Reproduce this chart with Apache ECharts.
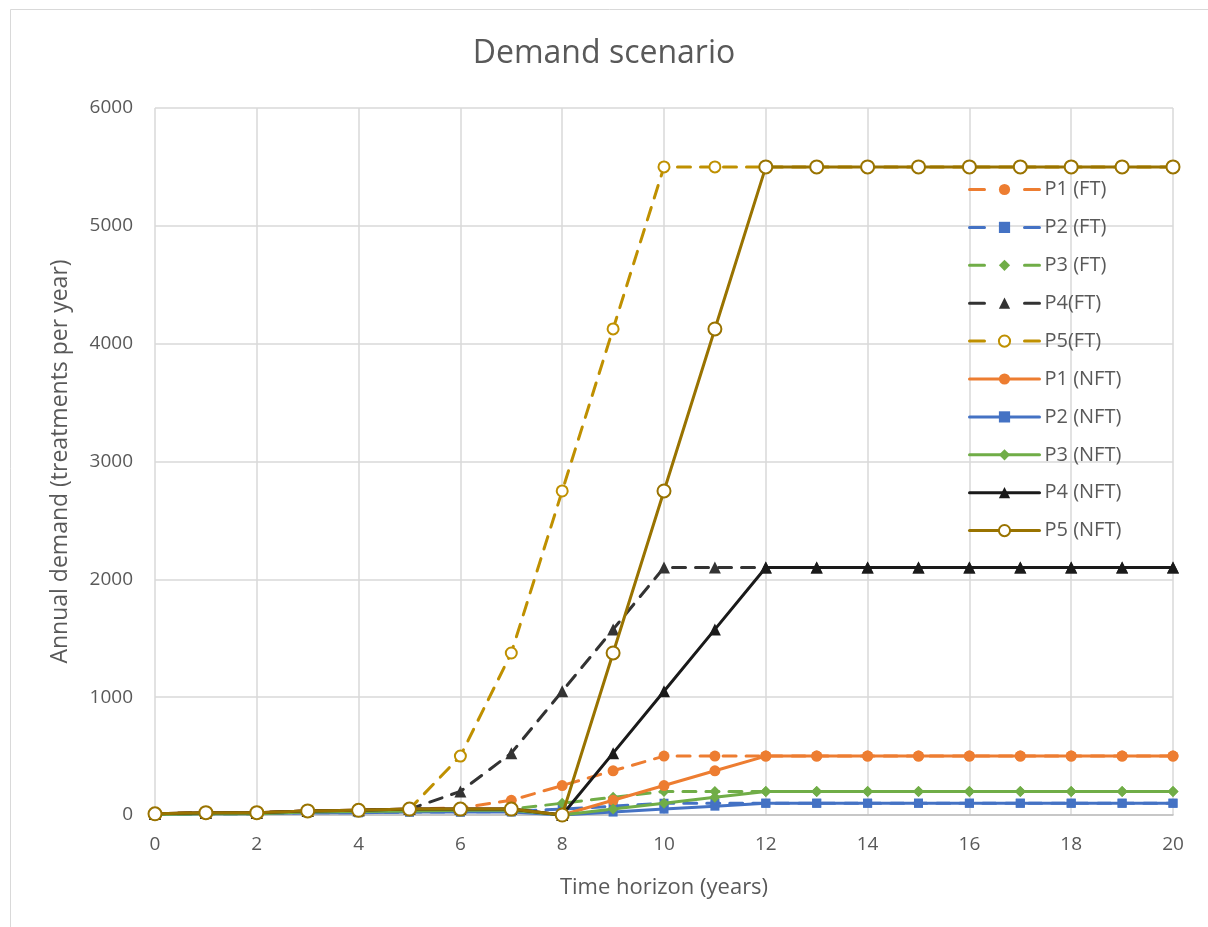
<!DOCTYPE html>
<html>
<head>
<meta charset="utf-8">
<script src="https://cdn.jsdelivr.net/npm/echarts@6/dist/echarts.min.js"></script>
<style>
  html, body { margin: 0; padding: 0; background: #fff; }
  #chart { width: 1208px; height: 927px; }
</style>
</head>
<body>
<div id="chart"></div>
<script>
// Time horizon in years
const years = [0,1,2,3,4,5,6,7,8,9,10,11,12,13,14,15,16,17,18,19,20];

// Annual demand, FT scenario
const p1FT = [10,20,20,35,40,50,60,125,250,375,500,500,500,500,500,500,500,500,500,500,500];
const p2FT = [5,10,10,20,20,25,25,30,50,75,100,100,100,100,100,100,100,100,100,100,100];
const p3FT = [5,10,10,25,30,35,40,50,100,150,200,200,200,200,200,200,200,200,200,200,200];
const p4FT = [10,20,20,35,40,50,200,525,1050,1575,2100,2100,2100,2100,2100,2100,2100,2100,2100,2100,2100];
const p5FT = [10,20,20,35,40,50,500,1375,2750,4125,5500,5500,5500,5500,5500,5500,5500,5500,5500,5500,5500];

// Annual demand, NFT scenario
const p1NFT = [10,20,20,35,40,50,50,50,0,125,250,375,500,500,500,500,500,500,500,500,500];
const p2NFT = [5,10,10,20,20,25,25,25,0,25,50,75,100,100,100,100,100,100,100,100,100];
const p3NFT = [5,10,10,25,30,35,40,40,0,50,100,150,200,200,200,200,200,200,200,200,200];
const p4NFT = [10,20,20,35,40,50,50,50,0,525,1050,1575,2100,2100,2100,2100,2100,2100,2100,2100,2100];
const p5NFT = [10,20,20,35,40,50,50,50,0,1375,2750,4125,5500,5500,5500,5500,5500,5500,5500,5500,5500];

const yTicks = [0,1000,2000,3000,4000,5000,6000];
const xTicks = [0,2,4,6,8,10,12,14,16,18,20];

const FONT = '"Open Sans", "Noto Sans", sans-serif';
const TXT = '#595959';

function pairs(vals) { return years.map((y, i) => [y, vals[i]]); }

function mk(name, vals, color, dashed, symbol, size, hollow) {
  return {
    name: name,
    type: 'line',
    data: pairs(vals),
    symbol: symbol,
    symbolSize: size,
    showSymbol: true,
    lineStyle: { color: color, width: 3, type: dashed ? [13, 10] : 'solid', cap: 'round' },
    itemStyle: hollow
      ? { color: '#ffffff', borderColor: color, borderWidth: 2 }
      : { color: color, borderColor: color, borderWidth: 0 },
    emphasis: { disabled: true },
    animation: false,
    z: dashed ? 2 : 3
  };
}

const ORANGE = '#ED7D31', BLUE = '#4472C4', GREEN = '#70AD47';
const DARK = '#333333', BLACK = '#1a1a1a', GOLD = '#BF9000', OLIVE = '#997300';

const series = [
  mk('P1 (FT)', p1FT, ORANGE, true, 'circle', 11, false),
  mk('P2 (FT)', p2FT, BLUE, true, 'rect', 9, false),
  mk('P3 (FT)', p3FT, GREEN, true, 'diamond', 11, false),
  mk('P4(FT)', p4FT, DARK, true, 'triangle', 12, false),
  mk('P5(FT)', p5FT, GOLD, true, 'circle', 11, true),
  mk('P1 (NFT)', p1NFT, ORANGE, false, 'circle', 11, false),
  mk('P2 (NFT)', p2NFT, BLUE, false, 'rect', 9, false),
  mk('P3 (NFT)', p3NFT, GREEN, false, 'diamond', 11, false),
  mk('P4 (NFT)', p4NFT, BLACK, false, 'triangle', 12, false),
  mk('P5 (NFT)', p5NFT, OLIVE, false, 'circle', 13, true)
];

// Legend entries: dashed series show one short dash on each side of the marker
const legendData = series.map(s => ({
  name: s.name,
  lineStyle: { width: 3, type: Array.isArray(s.lineStyle.type) ? [15, 40] : 'solid' }
}));

const chart = echarts.init(document.getElementById('chart'), null, { renderer: 'canvas' });
chart.setOption({
  backgroundColor: '#ffffff',
  animation: false,
  title: {
    text: 'Demand scenario',
    left: 'center',
    top: 33,
    textStyle: { fontFamily: FONT, fontSize: 32, fontWeight: 'normal', color: TXT }
  },
  graphic: [{
    type: 'rect',
    shape: { x: 10.5, y: 9.5, width: 1400, height: 1000 },
    style: { fill: 'none', stroke: '#d9d9d9', lineWidth: 1 },
    silent: true
  }],
  legend: {
    orient: 'vertical',
    left: 963,
    top: 173,
    itemWidth: 70,
    itemHeight: 14,
    itemGap: 14.9,
    lineStyle: { width: 3 },
    textStyle: { fontFamily: FONT, fontSize: 20, color: TXT, lineHeight: 23 },
    data: legendData
  },
  grid: { left: 155, right: 35, top: 108, bottom: 112, containLabel: false },
  xAxis: {
    type: 'value',
    min: 0, max: 20, interval: 2,
    name: 'Time horizon (years)',
    nameLocation: 'middle',
    nameGap: 62,
    nameTextStyle: { fontFamily: FONT, fontSize: 22, color: TXT },
    axisLine: { show: true, lineStyle: { color: '#bfbfbf', width: 1.5 } },
    axisTick: { show: false },
    axisLabel: {
      fontFamily: FONT, fontSize: 19, color: TXT, margin: 20,
      customValues: xTicks
    },
    splitLine: { show: true, lineStyle: { color: '#d9d9d9', width: 1.5 } }
  },
  yAxis: {
    type: 'value',
    min: 0, max: 6000, interval: 1000,
    name: 'Annual demand (treatments per year)',
    nameLocation: 'middle',
    nameGap: 83,
    nameRotate: 90,
    nameTextStyle: { fontFamily: FONT, fontSize: 23, color: TXT },
    axisLine: { show: false },
    axisTick: { show: false },
    axisLabel: {
      fontFamily: FONT, fontSize: 19, color: TXT, margin: 22,
      formatter: v => String(v),
      customValues: yTicks
    },
    splitLine: { show: true, lineStyle: { color: '#d9d9d9', width: 1.5 } }
  },
  series: series
});
</script>
</body>
</html>
